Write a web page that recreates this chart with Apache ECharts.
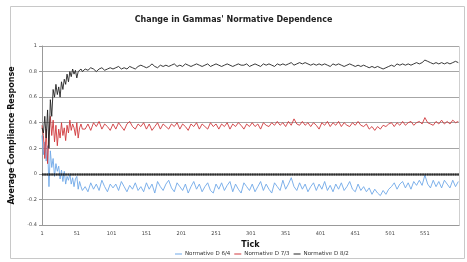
<!DOCTYPE html>
<html>
<head>
<meta charset="utf-8">
<script src="https://cdn.jsdelivr.net/npm/echarts@6/dist/echarts.min.js"></script>
<style>
  html, body { margin: 0; padding: 0; background: #fff; }
  #chart { width: 467px; height: 262px; }
</style>
</head>
<body>
<div id="chart"></div>
<script>
// ticks: every 2 ticks early on, then every 4
const ticks = [
  1,3,5,7,9,11,13,15,17,19,21,23,25,27,29,31,33,35,37,39,41,43,45,47,49,51,53,55,57,59,
  63,67,71,75,79,83,87,91,95,99,103,107,111,115,119,123,127,131,135,139,
  143,147,151,155,159,163,167,171,175,179,183,187,191,195,199,203,207,211,215,219,
  223,227,231,235,239,243,247,251,255,259,263,267,271,275,279,283,287,291,295,299,
  303,307,311,315,319,323,327,331,335,339,343,347,351,355,359,363,367,371,375,379,
  383,387,391,395,399,403,407,411,415,419,423,427,431,435,439,443,447,451,455,459,
  463,467,471,475,479,483,487,491,495,499,503,507,511,515,519,523,527,531,535,539,
  543,547,551,555,559,563,567,571,575,579,583,587,591,595,599
];

const normD64 = [
  0.30,0.15,0.25,0.10,0.22,-0.10,0.18,0.05,0.12,-0.02,0.08,0.02,0.06,-0.04,0.03,-0.06,0.02,-0.08,-0.02,-0.05,
  0.00,-0.08,-0.03,-0.10,-0.04,-0.02,-0.12,-0.06,-0.10,-0.13,
  -0.10,-0.14,-0.07,-0.12,-0.08,-0.13,-0.05,-0.10,-0.14,-0.08,
  -0.11,-0.08,-0.13,-0.06,-0.10,-0.14,-0.09,-0.12,-0.07,-0.13,
  -0.10,-0.14,-0.07,-0.12,-0.08,-0.15,-0.06,-0.10,-0.13,-0.08,
  -0.05,-0.11,-0.14,-0.07,-0.10,-0.13,-0.08,-0.15,-0.10,-0.06,
  -0.12,-0.08,-0.14,-0.10,-0.07,-0.13,-0.15,-0.08,-0.12,-0.07,
  -0.13,-0.09,-0.06,-0.14,-0.08,-0.12,-0.15,-0.07,-0.10,-0.13,
  -0.08,-0.14,-0.10,-0.06,-0.13,-0.08,-0.12,-0.15,-0.07,-0.10,
  -0.13,-0.05,-0.12,-0.08,-0.03,-0.10,-0.13,-0.07,-0.12,-0.08,
  -0.14,-0.10,-0.07,-0.13,-0.08,-0.12,-0.06,-0.13,-0.09,-0.14,
  -0.08,-0.12,-0.07,-0.13,-0.10,-0.06,-0.12,-0.14,-0.08,-0.13,
  -0.10,-0.14,-0.11,-0.16,-0.12,-0.15,-0.17,-0.13,-0.16,-0.12,
  -0.10,-0.07,-0.12,-0.08,-0.06,-0.11,-0.07,-0.12,-0.06,-0.09,
  -0.05,-0.09,-0.01,-0.08,-0.11,-0.05,-0.10,-0.06,-0.11,-0.05,
  -0.08,-0.11,-0.05,-0.10,-0.06
];

const normD73 = [
  0.38,0.30,0.12,0.35,0.08,0.30,0.45,0.30,0.42,0.25,0.38,0.22,0.35,0.28,0.40,0.30,0.36,0.26,0.38,0.32,
  0.42,0.34,0.39,0.36,0.30,0.40,0.28,0.36,0.39,0.35,
  0.35,0.39,0.34,0.40,0.37,0.41,0.35,0.39,0.37,0.34,
  0.39,0.35,0.40,0.37,0.34,0.39,0.41,0.37,0.35,0.39,
  0.37,0.40,0.35,0.39,0.34,0.37,0.40,0.35,0.39,0.37,
  0.35,0.39,0.37,0.40,0.35,0.39,0.37,0.34,0.39,0.37,
  0.40,0.35,0.39,0.37,0.35,0.40,0.37,0.39,0.35,0.39,
  0.37,0.40,0.35,0.39,0.37,0.40,0.38,0.35,0.39,0.37,
  0.40,0.37,0.39,0.35,0.40,0.38,0.37,0.40,0.38,0.41,
  0.38,0.40,0.37,0.41,0.38,0.43,0.39,0.38,0.41,0.38,
  0.40,0.37,0.40,0.38,0.35,0.40,0.38,0.41,0.37,0.40,
  0.38,0.41,0.37,0.40,0.38,0.37,0.40,0.38,0.41,0.38,
  0.37,0.39,0.35,0.37,0.34,0.37,0.35,0.38,0.37,0.39,
  0.40,0.37,0.40,0.38,0.41,0.38,0.40,0.41,0.38,0.40,
  0.41,0.39,0.44,0.40,0.39,0.38,0.41,0.39,0.42,0.39,
  0.41,0.39,0.42,0.40,0.41
];

const normD82 = [
  0.36,0.32,0.45,0.28,0.50,0.20,0.58,0.45,0.66,0.60,0.70,0.62,0.68,0.60,0.72,0.66,0.74,0.70,0.78,0.72,
  0.80,0.76,0.82,0.78,0.81,0.75,0.80,0.79,0.82,0.80,
  0.82,0.81,0.83,0.82,0.80,0.82,0.83,0.81,0.82,0.83,
  0.82,0.83,0.84,0.82,0.83,0.82,0.84,0.83,0.82,0.84,
  0.85,0.84,0.83,0.84,0.86,0.84,0.83,0.85,0.84,0.85,
  0.84,0.85,0.86,0.84,0.85,0.84,0.86,0.85,0.84,0.85,
  0.86,0.85,0.84,0.85,0.86,0.84,0.85,0.86,0.85,0.84,
  0.85,0.86,0.85,0.84,0.85,0.86,0.85,0.85,0.86,0.84,
  0.85,0.86,0.85,0.84,0.86,0.85,0.86,0.85,0.84,0.86,
  0.85,0.86,0.85,0.86,0.87,0.85,0.86,0.87,0.86,0.87,
  0.86,0.85,0.86,0.85,0.86,0.85,0.86,0.85,0.84,0.86,
  0.85,0.86,0.85,0.84,0.85,0.86,0.85,0.84,0.85,0.84,
  0.85,0.84,0.83,0.84,0.83,0.84,0.83,0.82,0.83,0.84,
  0.85,0.84,0.86,0.85,0.86,0.85,0.86,0.85,0.86,0.87,
  0.86,0.87,0.89,0.88,0.87,0.86,0.87,0.86,0.87,0.86,
  0.87,0.86,0.87,0.88,0.87
];

const seriesNames = ['Normative D 6/4', 'Normative D 7/3', 'Normative D 8/2'];
const seriesColors = ['#6fa8e8', '#d0393c', '#222222'];

// axis value = tick - 1 so the labels land on 1, 51, 101 ...
function pairs(vals) {
  return vals.map((v, i) => [ticks[i] - 1, v]);
}

const chart = echarts.init(document.getElementById('chart'));
const font = 'DejaVu Sans';

chart.setOption({
  animation: false,
  textStyle: { fontFamily: font },
  title: {
    text: "Change in Gammas' Normative Dependence",
    left: 'center',
    top: 11,
    textStyle: { fontSize: 8, fontWeight: 'bold', color: '#222', fontFamily: font }
  },
  legend: {
    bottom: 0,
    left: 170,
    icon: 'rect',
    itemWidth: 7,
    itemHeight: 1,
    itemGap: 4,
    textStyle: { fontSize: 5.5, color: '#333', fontFamily: font, padding: [0, 0, 0, -2] },
    data: seriesNames
  },
  grid: { left: 42, right: 8, top: 46, bottom: 37 },
  xAxis: {
    type: 'value',
    min: 0,
    max: 599,
    interval: 50,
    name: 'Tick',
    nameLocation: 'middle',
    nameGap: 14,
    nameTextStyle: { fontSize: 8, fontWeight: 'bold', color: '#111', fontFamily: font },
    axisLine: { onZero: false, lineStyle: { color: '#999' } },
    axisTick: { show: false },
    axisLabel: {
      fontSize: 5, color: '#444', margin: 6, showMaxLabel: false,
      formatter: v => String(v + 1)
    },
    splitLine: { show: false }
  },
  yAxis: {
    type: 'value',
    min: -0.4,
    max: 1,
    interval: 0.2,
    name: 'Average Compliance Response',
    nameLocation: 'middle',
    nameGap: 16,
    nameTextStyle: { fontSize: 8, fontWeight: 'bold', color: '#111', fontFamily: font },
    axisLine: { show: true, lineStyle: { color: '#999' } },
    axisTick: { show: true, length: 3, lineStyle: { color: '#999' } },
    axisLabel: { fontSize: 5, color: '#444', margin: 5 },
    splitLine: { lineStyle: { color: '#a6a6a6', width: 1 } }
  },
  graphic: [
    {
      type: 'rect',
      shape: { x: 10.5, y: 6.5, width: 454, height: 252 },
      style: { fill: 'none', stroke: '#c8c8c8', lineWidth: 1 },
      silent: true
    },
    {
      type: 'rect',
      shape: { x: 42.5, y: 46.5, width: 417, height: 179 },
      style: { fill: 'none', stroke: '#cfcfcf', lineWidth: 1 },
      silent: true,
      z: -1
    }
  ],
  series: seriesNames.map((name, k) => ({
    name: name,
    type: 'line',
    data: pairs([normD64, normD73, normD82][k]),
    showSymbol: false,
    symbol: 'none',
    lineStyle: { width: 0.9, color: seriesColors[k] },
    itemStyle: { color: seriesColors[k] },
    z: 3 + k,
    markLine: k === 0 ? {
      silent: true,
      symbol: 'none',
      label: { show: false },
      lineStyle: { color: '#000', width: 2.5, type: [0.45, 0.25] },
      data: [{ yAxis: 0 }]
    } : undefined
  }))
});
</script>
</body>
</html>
